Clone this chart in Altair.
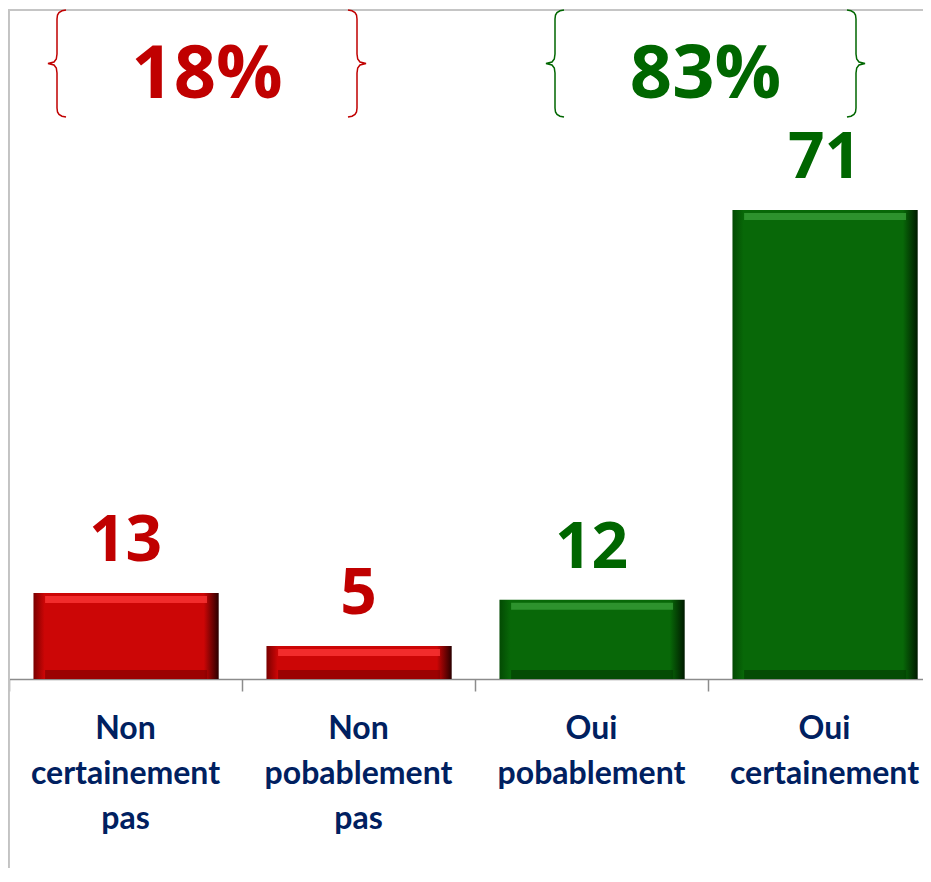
import altair as alt
import pandas as pd

# ---------------- data ----------------
categories = ["Non certainement pas", "Non pobablement pas", "Oui pobablement", "Oui certainement"]
values = [13, 5, 12, 71]
groups = ["Non", "Non", "Oui", "Oui"]
group_names = ["Non", "Oui"]
group_totals = [18, 83]

# ---------------- layout / style ----------------
W, H = 914, 669
STEP_PX = 233.0               # px per category band
PX_PER_UNIT = 6.606           # px per percentage point
XMAX = W / STEP_PX
YMAX = H / PX_PER_UNIT
BAR_L, BAR_R = 0.105, 0.900   # bar edges inside a band (band units)

RED, GREEN, NAVY = "#C00000", "#006600", "#002060"
FONT = "Open Sans"
LABEL_FONT = "Lato"

# brace layout (plot px): left edge of left brace, right edge of right brace
brace_left_px = [39, 537]
brace_right_px = [357, 856]
brace_shape = [(18, 0), (14, 0.8), (11, 2.5), (9.5, 5), (9, 9), (9, 44), (8.3, 49), (6, 52),
               (0, 53.5), (6, 55), (8.3, 58), (9, 63), (9, 98), (9.5, 102), (11, 104.5),
               (14, 106.2), (18, 107)]

df = pd.DataFrame({
    "i": list(range(len(categories))),
    "cat": categories,
    "value": values,
    "grp": groups,
})

xscale = alt.Scale(domain=[0, XMAX], nice=False, zero=False)
yscale = alt.Scale(domain=[0, YMAX], nice=False)
xaxis = alt.Axis(values=[0, 1, 2, 3], labels=False, tickSize=12, tickColor="#8c8c8c",
                 domainColor="#8c8c8c", domainWidth=1.5, tickWidth=1.5, grid=False, title=None)

def X(field):
    return alt.X(field, type="quantitative", scale=xscale, axis=xaxis)

def Y(field):
    return alt.Y(field, type="quantitative", scale=yscale, axis=None)

base = alt.Chart(df).transform_calculate(
    x1=f"datum.i + {BAR_L}", x2=f"datum.i + {BAR_R}",
    hx1=f"datum.i + {BAR_L} + 0.05", hx2=f"datum.i + {BAR_R} - 0.05",
    xc="datum.i + 0.5",
)

def grad(dark_l, base_c, dark_r):
    return alt.Gradient(gradient="linear", x1=0, x2=1, y1=0, y2=0, stops=[
        alt.GradientStop(offset=0, color=dark_l),
        alt.GradientStop(offset=0.06, color=base_c),
        alt.GradientStop(offset=0.92, color=base_c),
        alt.GradientStop(offset=1, color=dark_r),
    ])

def bar_layers(g, dark_l, base_c, dark_r, light, bottom):
    b = base.transform_filter(f"datum.grp == '{g}'")
    main = b.mark_bar(color=grad(dark_l, base_c, dark_r)).encode(
        x=X("x1:Q"), x2="x2:Q", y=Y("value:Q"), y2=alt.datum(0))
    top = b.mark_bar(color=light, opacity=0.75, yOffset=3, y2Offset=10).encode(
        x=X("hx1:Q"), x2="hx2:Q", y=Y("value:Q"), y2="value:Q")
    bot = b.mark_bar(color=bottom, opacity=0.6, yOffset=-9, y2Offset=0).encode(
        x=X("hx1:Q"), x2="hx2:Q", y=Y("value:Q"), y2=alt.datum(0)).transform_calculate(
        value="0")
    return [main, top, bot]

red_layers = bar_layers("Non", "#7a0000", "#cc0606", "#2a0000", "#ff3a3a", "#7a0000")
green_layers = bar_layers("Oui", "#034a03", "#086808", "#001a00", "#3aa03a", "#023a02")

color_scale = alt.Scale(domain=group_names, range=[RED, GREEN])

value_labels = base.mark_text(font=FONT, fontWeight="bold", fontSize=64, baseline="alphabetic",
                              dy=-32).encode(
    x=X("xc:Q"), y=Y("value:Q"), text="value:Q",
    color=alt.Color("grp:N", scale=color_scale, legend=None))

cat_labels = base.mark_text(font=LABEL_FONT, fontWeight="bold", fontSize=32, baseline="alphabetic",
                            lineBreak=" ", lineHeight=45, color=NAVY).encode(
    x=X("xc:Q"), y=alt.value(H + 60), text="cat:N")

# group totals and braces
tot_df = pd.DataFrame({
    "grp": group_names,
    "label": [f"{t}%" for t in group_totals],
    "xc": [((l + r) / 2) / STEP_PX for l, r in zip(brace_left_px, brace_right_px)],
})
tot_labels = alt.Chart(tot_df).mark_text(font=FONT, fontWeight="bold", fontSize=74,
                                         baseline="alphabetic").encode(
    x=X("xc:Q"), y=alt.value(88), text="label:N",
    color=alt.Color("grp:N", scale=color_scale, legend=None))

rows = []
for gi, g in enumerate(group_names):
    for side in ("L", "R"):
        for k, (dx, dy) in enumerate(brace_shape):
            px = brace_left_px[gi] + dx if side == "L" else brace_right_px[gi] - dx
            rows.append({"grp": g, "bid": f"{g}{side}", "k": k,
                         "bx": px / STEP_PX, "by": YMAX - dy / PX_PER_UNIT})
brace_df = pd.DataFrame(rows)
braces = alt.Chart(brace_df).mark_line(strokeWidth=1.5, interpolate="linear").encode(
    x=X("bx:Q"), y=Y("by:Q"), detail="bid:N", order="k:Q",
    color=alt.Color("grp:N", scale=color_scale, legend=None))

# chart frame (gray border)
frame_top = alt.Chart(df).mark_rule(color="#c4c4c4", strokeWidth=1.5).encode(
    x=alt.value(-1), x2=alt.value(W), y=alt.value(0))
frame_left = alt.Chart(df).mark_rule(color="#c4c4c4", strokeWidth=1.5).encode(
    x=alt.value(-0.2), y=alt.value(0), y2=alt.value(H + 189))

chart = alt.layer(
    frame_top, frame_left,
    *red_layers, *green_layers,
    value_labels, cat_labels, tot_labels, braces,
).properties(
    width=W, height=H,
    autosize=alt.AutoSizeParams(type="none"),
    padding={"left": 1, "top": 2, "right": 0, "bottom": 189},
).configure_view(stroke=None).configure(background="white")

chart.save("out.html", embed_options={"renderer": "svg", "actions": False})
